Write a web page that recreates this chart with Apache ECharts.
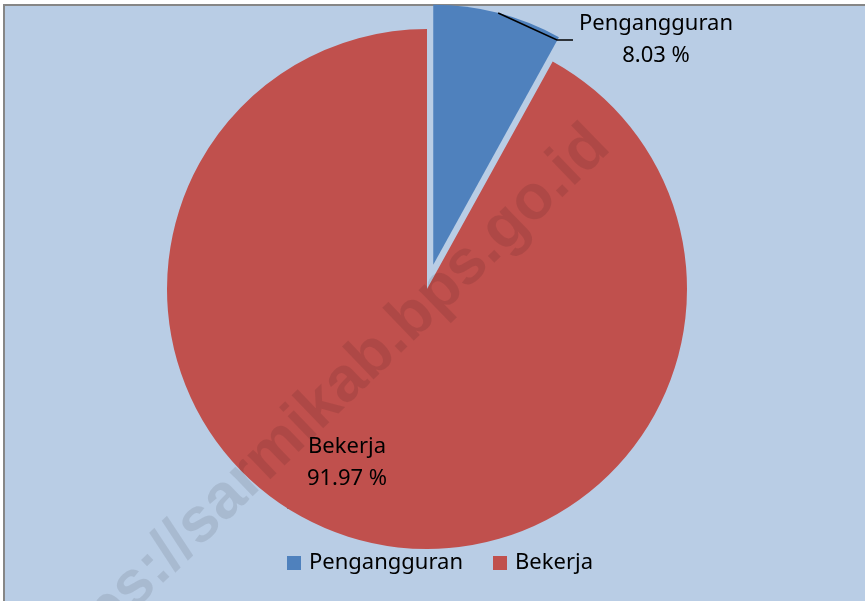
<!DOCTYPE html>
<html>
<head>
<meta charset="utf-8">
<title>Pengangguran dan Bekerja</title>
<script src="https://cdn.jsdelivr.net/npm/echarts@6/dist/echarts.min.js"></script>
<style>
  html, body { margin: 0; padding: 0; background: #fff; overflow: hidden; }
  #frame {
    position: absolute; left: 3px; top: 4px; width: 880px; height: 610px;
    background: #B9CDE5; border-top: 2px solid #868686; border-left: 2px solid #868686;
  }
  #chart { position: absolute; left: 0; top: 0; width: 865px; height: 601px; }
</style>
</head>
<body>
<div id="frame"></div>
<div id="chart"></div>
<script>
// data (percent)
const categories = ["Pengangguran", "Bekerja"];
const shares = [8.03, 91.97];
const watermark = "https://sarmikab.bps.go.id";

const font = "'Noto Sans', 'Open Sans', sans-serif";
const colors = ["#4F81BD", "#C0504D"];
const hidden = "rgba(0,0,0,0)";

// pulled-out slice: shift its pie centre along the slice's middle angle
const center = [427, 289];
const explode = 25;
const total = shares.reduce(function (a, b) { return a + b; }, 0);
const midAngle = (shares[0] / total) * Math.PI; // half of the slice, from 12 o'clock
const centerOut = [center[0] + explode * Math.sin(midAngle), center[1] - explode * Math.cos(midAngle)];

let myChart = echarts.init(document.getElementById("chart"));

// shown: index of the slice that is painted, labelled: index of the slice that gets a label
function pieSeries(c, shown, labelled, labelOpt, layoutFn, z) {
  return {
    type: "pie",
    z: z,
    center: c,
    radius: 260,
    startAngle: 90,
    clockwise: true,
    percentPrecision: 2,
    avoidLabelOverlap: false,
    emphasis: { disabled: true },
    label: {
      formatter: "{b}\n{d} %",
      color: "#000",
      fontFamily: font,
      fontSize: 22,
      lineHeight: 32
    },
    labelLine: {
      length: 15,
      length2: 16,
      lineStyle: { color: "#000", width: 1.5 }
    },
    labelLayout: layoutFn,
    data: categories.map(function (name, i) {
      let item = {
        name: name,
        value: shares[i],
        itemStyle: { color: i === shown ? colors[i] : hidden }
      };
      if (i === labelled) {
        item.label = labelOpt;
      } else {
        item.label = { show: false };
        item.labelLine = { show: false };
      }
      return item;
    })
  };
}

myChart.setOption({
  animation: false,
  backgroundColor: "transparent",
  legend: {
    data: categories.map(function (name, i) {
      return { name: name, itemStyle: { color: colors[i] } };
    }),
    left: 287,
    top: 550,
    padding: 0,
    icon: "rect",
    itemWidth: 14,
    itemHeight: 14,
    itemGap: 30,
    selectedMode: false,
    textStyle: { fontFamily: font, fontSize: 22, color: "#000", lineHeight: 26, padding: [0, 0, 0, 3] }
  },
  graphic: [
    {
      type: "text",
      x: 318,
      y: 409,
      rotation: (44 * Math.PI) / 180,
      z: 100,
      silent: true,
      style: {
        text: watermark,
        fill: "rgba(0,0,0,0.09)",
        font: "bold 63px 'Liberation Sans', Arial, sans-serif",
        align: "center",
        verticalAlign: "middle"
      }
    }
  ],
  series: [
    // red slice, label inside
    pieSeries(center, 1, 1, { position: "inside" }, function (params) {
      if (params.dataIndex === 1) {
        return { x: 347, y: 463, align: "center", verticalAlign: "middle" };
      }
    }, 2),
    // blue slice, pulled out
    pieSeries(centerOut, 0, -1, null, null, 2),
    // leader line and label of the blue slice, kept above the slices
    pieSeries(centerOut, -1, 0, { position: "outside", padding: [18, 0, 0, 6] }, function (params) {
      if (params.dataIndex === 0) {
        return { x: 653, y: 40, align: "center", verticalAlign: "middle" };
      }
    }, 3)
  ]
});
</script>
</body>
</html>
